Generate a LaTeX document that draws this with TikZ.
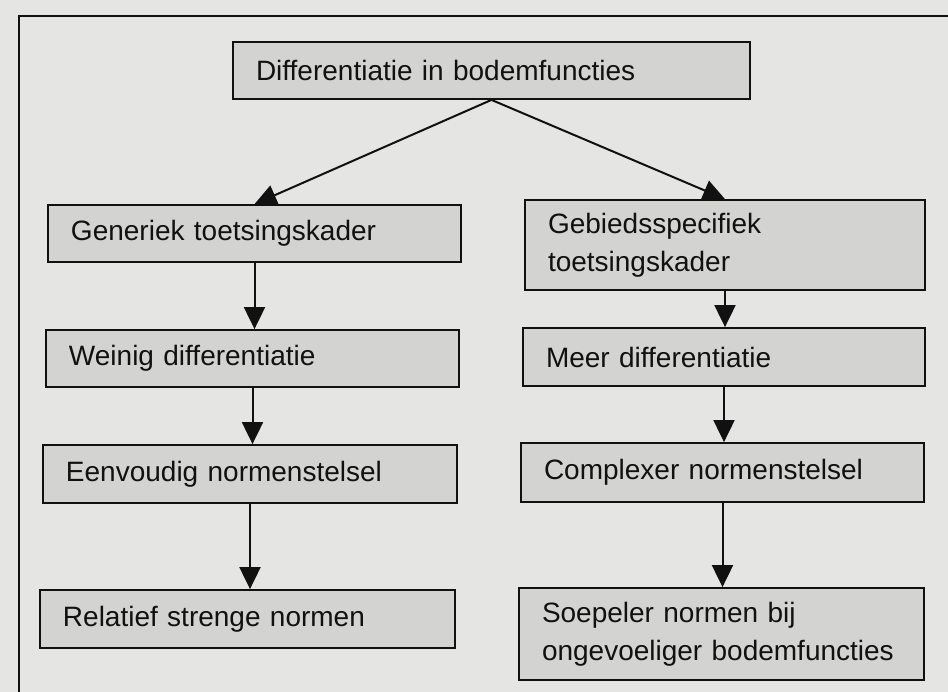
\documentclass[tikz,border=0pt]{standalone}
\usepackage{fontspec}
\setmainfont{Liberation Sans}
\usetikzlibrary{arrows.meta}
\definecolor{bgcol}{HTML}{E5E6E4}
\definecolor{boxcol}{HTML}{D3D4D2}
\definecolor{inkcol}{HTML}{111111}
\hyphenpenalty=10000
\begin{document}
\begin{tikzpicture}[x=1bp,y=-1bp,
  box/.style={draw=inkcol,line width=1.8bp,fill=boxcol,text=inkcol,
    font=\fontsize{28bp}{38bp}\selectfont,align=left,inner xsep=0pt,inner ysep=0pt,
    anchor=center},
  arr/.style={draw=inkcol,line width=2bp,-{Triangle[width=21bp,length=22bp]}}]
\useasboundingbox (0,0) rectangle (948,692);
\clip (0,0) rectangle (948,692);
\fill[bgcol] (-5,-5) rectangle (953,697);
\draw[inkcol,line width=2bp] (19,700) -- (19,16) -- (960,16);
\node[box,minimum width=517bp,minimum height=57bp,text width=471bp] (top) at (491.5,70.5) {Differentiatie in bodemfuncties};
\node[box,minimum width=413bp,minimum height=57bp,text width=367bp] (L1) at (254.5,233.5) {Generiek toetsingskader};
\node[box,minimum width=400bp,minimum height=90bp,text width=354bp] (R1) at (725,245) {Gebiedsspecifiek\\toetsingskader};
\node[box,minimum width=413bp,minimum height=57bp,text width=367bp] (L2) at (252.5,358.5) {Weinig differentiatie};
\node[box,minimum width=402bp,minimum height=58bp,text width=356bp] (R2) at (724,357) {Meer differentiatie};
\node[box,minimum width=414bp,minimum height=58bp,text width=368bp] (L3) at (250,474) {Eenvoudig normenstelsel};
\node[box,minimum width=403bp,minimum height=59bp,text width=357bp] (R3) at (722.5,472.5) {Complexer normenstelsel};
\node[box,minimum width=415bp,minimum height=58bp,text width=369bp] (L4) at (247.5,619) {Relatief strenge normen};
\node[box,minimum width=405bp,minimum height=92bp,text width=359bp] (R4) at (721.5,634) {Soepeler normen bij\\ongevoeliger bodemfuncties};
% connectors
\draw[arr] (top.south) -- (L1.north);
\draw[arr] (top.south) -- (R1.north);
\draw[arr] (L1.south) -- (L1.south |- L2.north);
\draw[arr] (L2.south) -- (L2.south |- L3.north);
\draw[arr] (L3.south) -- (L3.south |- L4.north);
\draw[arr] (R1.south) -- (R1.south |- R2.north);
\draw[arr] (R2.south) -- (R2.south |- R3.north);
\draw[arr] (R3.south) -- (R3.south |- R4.north);
\end{tikzpicture}
\end{document}
